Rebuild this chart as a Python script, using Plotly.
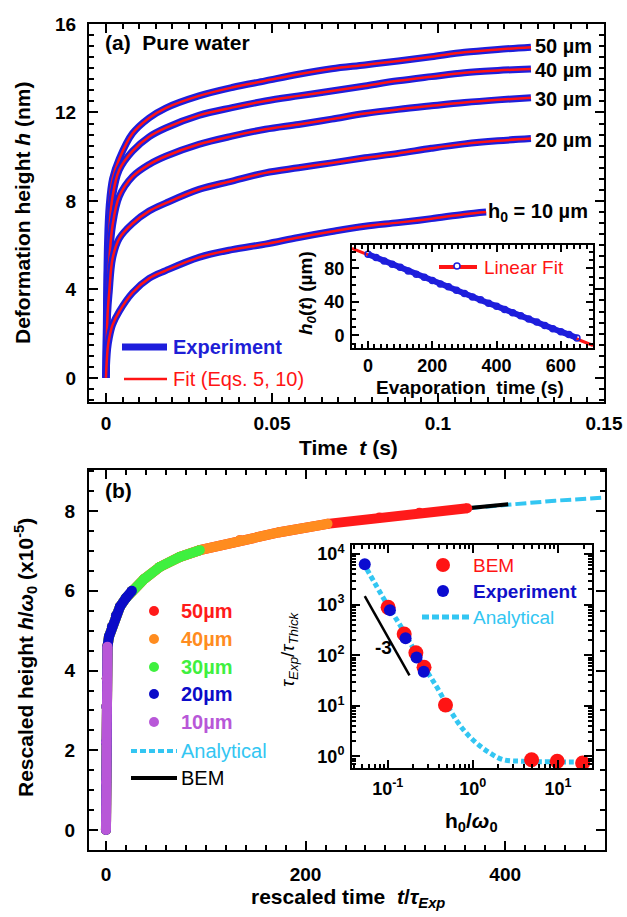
import plotly.graph_objects as go

W, H = 627, 917
FONT = "Liberation Sans, Arial, sans-serif"

def px(x):
    return x / W

def py(y):
    return 1 - y / H

# ---------------- Panel (a) data ----------------
t_a = [0, 0.0005, 0.001, 0.002, 0.004, 0.008, 0.013, 0.018, 0.028, 0.038, 0.048,
       0.058, 0.068, 0.078, 0.088, 0.098, 0.108, 0.118, 0.128]
h_50 = [0, 6.2, 7.8, 9.0, 9.9, 11.05, 11.75, 12.2, 12.75, 13.13, 13.43,
        13.73, 13.98, 14.15, 14.33, 14.52, 14.72, 14.85, 14.95]
h_40 = [0, 5.0, 6.6, 8.2, 9.4, 10.25, 10.9, 11.3, 11.87, 12.22, 12.52,
        12.75, 12.97, 13.2, 13.43, 13.62, 13.8, 13.9, 13.97]
h_30 = [0, 4.0, 5.3, 6.9, 8.2, 9.1, 9.65, 10.02, 10.56, 10.93, 11.24,
        11.46, 11.7, 11.95, 12.14, 12.3, 12.45, 12.57, 12.67]
h_20 = [0, 2.9, 3.9, 5.4, 6.3, 6.98, 7.54, 7.9, 8.52, 8.9, 9.27,
        9.5, 9.72, 9.95, 10.15, 10.38, 10.58, 10.72, 10.82]
t_10 = [0, 0.0005, 0.001, 0.002, 0.004, 0.008, 0.013, 0.018, 0.028, 0.038, 0.048,
        0.058, 0.068, 0.078, 0.088, 0.098, 0.108, 0.1145]
h_10 = [0, 1.3, 1.8, 2.4, 3.0, 3.85, 4.5, 4.85, 5.45, 5.8, 6.05,
        6.35, 6.62, 6.86, 7.02, 7.2, 7.4, 7.5]
curve_labels = ["50 µm", "40 µm", "30 µm", "20 µm", "h<sub>0</sub> = 10 µm"]

# inset (a): evaporation
evap_t = [0, 25, 50, 75, 100, 125, 150, 175, 200, 225, 250, 275, 300, 325,
          350, 375, 400, 425, 450, 475, 500, 525, 550, 575, 600, 625, 650]
evap_h = [97, 93, 89, 85, 81.5, 77, 73, 69.5, 65.5, 61.5, 58, 54, 50, 46,
          42.5, 38.5, 35, 31, 27, 23.5, 19.5, 16, 12, 8, 4.5, 1, -3]
fit_t = [-50, 700]
fit_h = [104, -12]

# ---------------- Panel (b) data ----------------
tau = [0, 0.05, 0.15, 0.4, 0.8, 1.5, 3, 6, 10, 14, 20, 26, 38, 54, 74, 94,
       134, 174, 222, 274, 314, 362, 403, 450, 500]
hw = [0, 1.2, 2.2, 3.1, 3.8, 4.6, 4.85, 5.1, 5.38, 5.6, 5.82, 6.0, 6.29, 6.6,
      6.85, 7.02, 7.27, 7.47, 7.68, 7.84, 7.96, 8.07, 8.17, 8.26, 8.34]
series_names = ["50µm", "40µm", "30µm", "20µm", "10µm"]
series_end = [362, 222, 94, 26, 1.5]
series_colors = ["#FF1A1A", "#FF8C1F", "#3FF03F", "#0B0BC8", "#B857D8"]
bem_end = 403

# inset (b)
bem_x = [0.101, 0.156, 0.214, 0.267, 0.477, 4.9, 9.8, 19.5]
bem_y = [885, 263, 112, 58, 10.4, 0.86, 0.80, 0.74]
exp_x = [0.0537, 0.106, 0.162, 0.218, 0.265]
exp_y = [6300, 780, 216, 90, 47]
ana_x = [0.051, 0.0966, 0.151, 0.238, 0.374, 0.537, 0.77, 1.1, 1.58, 2.27, 3.9, 8, 26]
ana_y = [7000, 1060, 316, 81, 24, 8.3, 3.4, 1.84, 1.17, 0.86, 0.80, 0.78, 0.78]
slope_x = [0.0537, 0.18]
slope_y = [1480, 40]
log_x_ticks = [0.1, 1, 10]
log_x_text = ["10<sup>-1</sup>", "10<sup>0</sup>", "10<sup>1</sup>"]
log_y_ticks = [1, 10, 100, 1000, 10000]
log_y_text = ["10<sup>0</sup>", "10<sup>1</sup>", "10<sup>2</sup>", "10<sup>3</sup>", "10<sup>4</sup>"]
log_x_minor = [m * d for d in (0.01, 0.1, 1, 10) for m in range(2, 10)]
log_y_minor = [m * d for d in (0.1, 1, 10, 100, 1000, 10000) for m in range(2, 10)]

BLUE_A = "#1E1EDC"
RED = "#FF1414"
CYAN = "#33C6F2"

fig = go.Figure()

# panel (a) curves: experiment (thick blue) and fit (thin red)
for t, h in [(t_a, h_50), (t_a, h_40), (t_a, h_30), (t_a, h_20), (t_10, h_10)]:
    fig.add_trace(go.Scatter(x=t, y=h, mode="lines", line=dict(color=BLUE_A, width=7, shape="spline"),
                             xaxis="x", yaxis="y", showlegend=False, hoverinfo="skip"))
    fig.add_trace(go.Scatter(x=t, y=h, mode="lines", line=dict(color=RED, width=2.5, shape="spline"),
                             xaxis="x", yaxis="y", showlegend=False))

# inset (a)
fig.add_trace(go.Scatter(x=fit_t, y=fit_h, mode="lines", line=dict(color=RED, width=3),
                         xaxis="x2", yaxis="y2", showlegend=False))
fig.add_trace(go.Scatter(x=evap_t, y=evap_h, mode="lines+markers",
                         line=dict(color=BLUE_A, width=6),
                         marker=dict(symbol="circle-open", size=6, color=BLUE_A, line=dict(width=1.5)),
                         xaxis="x2", yaxis="y2", showlegend=False))

# panel (b)
fig.add_trace(go.Scatter(x=tau, y=hw, mode="lines", line=dict(color=CYAN, width=4, dash="11px,4px"),
                         xaxis="x3", yaxis="y3", showlegend=False))
bx = [v for v in tau if v <= bem_end]
fig.add_trace(go.Scatter(x=bx, y=hw[:len(bx)], mode="lines", line=dict(color="black", width=4),
                         xaxis="x3", yaxis="y3", showlegend=False))
for name, end, col in zip(series_names, series_end, series_colors):
    sx = [v for v in tau if v <= end]
    sy = hw[:len(sx)]
    fig.add_trace(go.Scatter(x=sx, y=sy, mode="lines+markers", name=name,
                             line=dict(color=col, width=10),
                             marker=dict(color=col, size=10),
                             xaxis="x3", yaxis="y3", showlegend=False))

# inset (b)
fig.add_trace(go.Scatter(x=ana_x, y=ana_y, mode="lines", line=dict(color=CYAN, width=5, dash="5px,3px", shape="spline"),
                         xaxis="x4", yaxis="y4", showlegend=False))
fig.add_trace(go.Scatter(x=slope_x, y=slope_y, mode="lines", line=dict(color="black", width=2.5),
                         xaxis="x4", yaxis="y4", showlegend=False))
fig.add_trace(go.Scatter(x=bem_x, y=bem_y, mode="markers", marker=dict(color="#FF1414", size=15),
                         xaxis="x4", yaxis="y4", showlegend=False))
fig.add_trace(go.Scatter(x=exp_x, y=exp_y, mode="markers", marker=dict(color="#0B0BD0", size=12),
                         xaxis="x4", yaxis="y4", showlegend=False))

tickfont = dict(family=FONT, size=19, color="black", weight="bold")
tickfont_in = dict(family=FONT, size=18, color="black", weight="bold")

def minor(dt=None, ln=5, vals=None):
    d = dict(ticks="inside", ticklen=ln, tickwidth=1.5, tickcolor="black")
    if dt is not None:
        d["dtick"] = dt
    if vals is not None:
        d["tickmode"] = "array"
        d["tickvals"] = vals
    return d

def axis_common(**kw):
    d = dict(showline=True, linecolor="black", linewidth=2, mirror="allticks",
             ticks="inside", ticklen=9, tickwidth=2, tickcolor="black",
             showgrid=False, zeroline=False, automargin=False)
    d.update(kw)
    return d

layout = dict(
    width=W, height=H, margin=dict(l=0, r=0, t=0, b=0),
    paper_bgcolor="white", plot_bgcolor="rgba(0,0,0,0)",
    font=dict(family=FONT, color="black"),
    xaxis=axis_common(domain=[px(89), px(604)], range=[-0.0051, 0.15], anchor="y",
                      tick0=0, dtick=0.05, tickformat="~g",
                      tickfont=tickfont, ticklabelstandoff=3, minor=minor(0.005)),
    yaxis=axis_common(domain=[py(402), py(24)], range=[-1.09, 16], anchor="x",
                      tick0=0, dtick=4,
                      tickfont=tickfont, ticklabelstandoff=7, minor=minor(0.5)),
    xaxis2=axis_common(domain=[px(352), px(593)], range=[-50, 700], anchor="y2",
                       tick0=0, dtick=200, ticklen=7, tickfont=tickfont_in, ticklabelstandoff=0,
                       minor=minor(20, 4)),
    yaxis2=axis_common(domain=[py(348), py(245)], range=[-15, 108], anchor="x2",
                       tick0=0, dtick=40, ticklen=7, tickfont=tickfont_in, ticklabelstandoff=2,
                       minor=minor(10, 4)),
    xaxis3=axis_common(domain=[px(89), px(605)], range=[-17, 500], anchor="y3",
                       tick0=0, dtick=200, tickfont=tickfont, ticklabelstandoff=6, minor=minor(20)),
    yaxis3=axis_common(domain=[py(850), py(470)], range=[-0.5, 9.03], anchor="x3",
                       tick0=0, dtick=2, tickfont=tickfont, ticklabelstandoff=8, minor=minor(0.5)),
    xaxis4=axis_common(domain=[px(352), px(592)], range=[-1.42, 1.40], anchor="y4", type="log",
                       tickmode="array", tickvals=log_x_ticks, ticktext=log_x_text, ticklen=8,
                       tickfont=tickfont_in, ticklabelstandoff=3, minor=minor(None, 4, log_x_minor)),
    yaxis4=axis_common(domain=[py(768), py(545)], range=[-0.23, 4.18], anchor="x4", type="log",
                       tickmode="array", tickvals=log_y_ticks, ticktext=log_y_text, ticklen=8,
                       tickfont=tickfont_in, ticklabelstandoff=2, minor=minor(None, 4, log_y_minor)),
)
fig.update_layout(**layout)

ann = []
def text(x, y, s, size=20, color="black", xanchor="left", angle=0, weight="bold"):
    ann.append(dict(x=px(x), y=py(y), xref="paper", yref="paper", text=s, showarrow=False,
                    xanchor=xanchor, yanchor="middle", textangle=angle,
                    font=dict(family=FONT, size=size, color=color, weight=weight)))

# panel (a) texts
text(103, 43, "(a)  Pure water", 21)
label_y = [46, 70, 99, 140]
for s, yy in zip(curve_labels[:4], label_y):
    text(533, yy, s, 20)
text(486, 212, curve_labels[4], 20)
text(171, 347, "Experiment", 20, "#1E1ED6")
text(171, 379, "Fit (Eqs. 5, 10)", 20, RED, weight="normal")
text(348, 448, "Time  <i>t</i> (s)", 21, xanchor="center")
text(22, 213, "Deformation height <i>h</i> (nm)", 21, xanchor="center", angle=-90)
# inset (a) texts
text(482, 267, "Linear Fit", 19, RED, weight="normal")
text(470, 387, "Evaporation  time (s)", 19, xanchor="center")
text(307, 293, "<i>h</i><sub><i>0</i></sub>(<i>t</i>) (µm)", 19, xanchor="center", angle=-90)

# panel (b) texts
text(103, 490, "(b)", 21)
leg_y = [611, 639, 667, 694, 722]
for s, yy, c in zip(series_names, leg_y, series_colors):
    text(179, yy, s, 20, c)
text(179, 751, "Analytical", 20, CYAN, weight="normal")
text(179, 778, "BEM", 20, "black", weight="normal")
text(348, 898, "rescaled time  <i>t</i>/<i>τ</i><sub><i>Exp</i></sub>", 21, xanchor="center")
text(25, 658, "Rescaled height <i>h</i>/<i>ω</i><sub>0</sub> (x10<sup>-5</sup>)", 21, xanchor="center", angle=-90)
# inset (b) texts
text(471, 565, "BEM", 19, RED, weight="normal")
text(471, 591, "Experiment", 19, "#1010C8")
text(471, 617, "Analytical", 19, CYAN, weight="normal")
text(373, 647, "-3", 19)
text(471, 822, "h<sub>0</sub>/<i>ω</i><sub>0</sub>", 21, xanchor="center")
text(289, 649, "<i>τ</i><sub><i>Exp</i></sub>/<i>τ</i><sub><i>Thick</i></sub>", 19, xanchor="center", angle=-90, weight="normal")

shapes = []
def hline(x0, x1, y, color, width, dash="solid"):
    shapes.append(dict(type="line", xref="paper", yref="paper", x0=px(x0), x1=px(x1), y0=py(y), y1=py(y),
                       line=dict(color=color, width=width, dash=dash)))

def circle(x, y, d, color, open_=False):
    shapes.append(dict(type="circle", xref="paper", yref="paper", xsizemode="pixel", ysizemode="pixel",
                       xanchor=px(x), yanchor=py(y), x0=-d / 2, x1=d / 2, y0=-d / 2, y1=d / 2,
                       fillcolor=("white" if open_ else color),
                       line=dict(color=color, width=(1.5 if open_ else 0))))

hline(122, 167, 347, BLUE_A, 7)
hline(124, 167, 379, RED, 2.5)
hline(439, 477, 267, RED, 4)
circle(457, 266, 6, BLUE_A, open_=True)
for yy, c in zip(leg_y, series_colors):
    circle(154, yy, 10, c)
hline(131, 177, 751, CYAN, 4, "6px,3px")
hline(131, 177, 778, "black", 4)
circle(443, 565, 14, "#FF1414")
circle(443, 591, 12, "#0B0BD0")
hline(422, 470, 617, CYAN, 5, "7px,3px")

fig.update_layout(annotations=ann, shapes=shapes)
fig.write_html("out.html", config={"displayModeBar": False},
               post_script="document.body.style.margin='0';document.body.style.overflow='hidden';")
